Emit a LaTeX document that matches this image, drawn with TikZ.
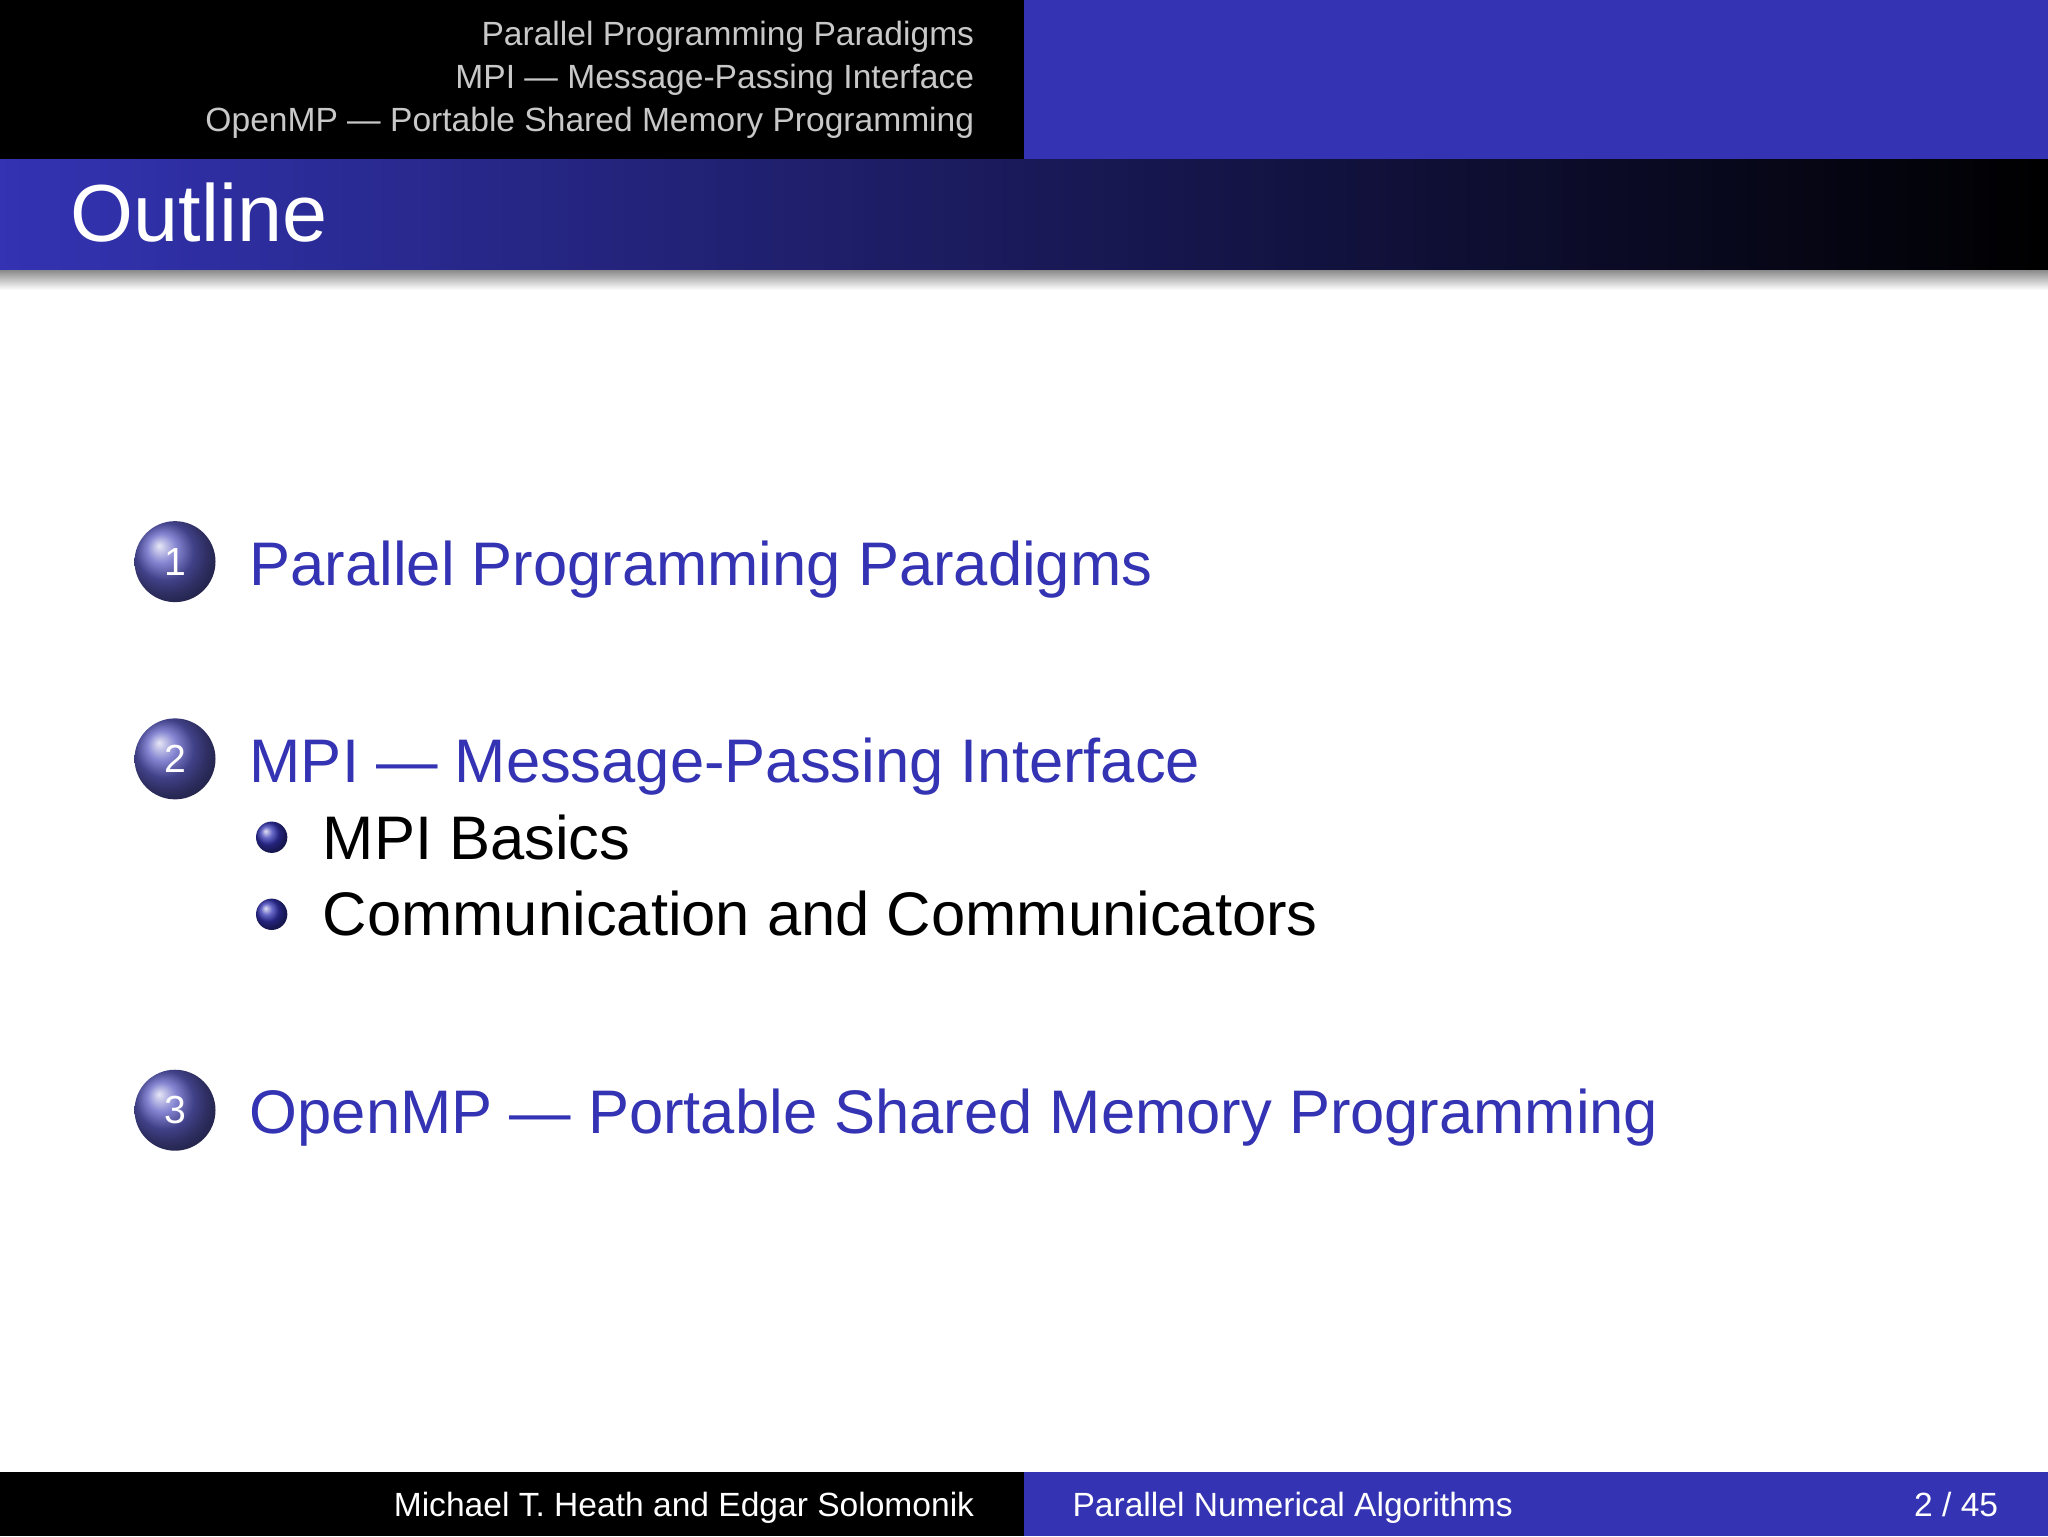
\documentclass[tikz,border=0pt]{standalone}
\usepackage{fontspec}
\setmainfont{Liberation Sans}
\definecolor{bblue}{RGB}{51,51,179}
\definecolor{hgray}{RGB}{200,200,200}
\begin{document}
\begin{tikzpicture}[x=1pt,y=-1pt,
  hdr/.style={anchor=base east,text=hgray,font=\fontsize{25.7}{30}\selectfont,inner sep=0},
  item/.style={anchor=base west,text=bblue,font=\fontsize{47.1}{55}\selectfont,inner sep=0},
  sub/.style={anchor=base west,text=black,font=\fontsize{47.1}{55}\selectfont,inner sep=0},
  foot/.style={text=white,font=\fontsize{25.7}{30}\selectfont,inner sep=0},
  num/.style={text=white,font=\fontsize{30}{34}\selectfont,inner sep=0}]
\useasboundingbox (0,0) rectangle (1568,1176);
\fill[white] (0,0) rectangle (1568,1176);
\fill[black] (0,0) rectangle (784,122);
\fill[bblue] (784,0) rectangle (1568,122);
\shade[left color=bblue,right color=black] (0,122) rectangle (1568,207);
\shade[top color=black!45,bottom color=white] (0,207) rectangle (1568,222);
\fill[black] (0,1127) rectangle (784,1176);
\fill[bblue] (784,1127) rectangle (1568,1176);
\node[hdr] (h1) at (746,35) {Parallel Programming Paradigms};
\node[hdr] (h2) at (746,68) {MPI — Message-Passing Interface};
\node[hdr] (h3) at (746,101) {OpenMP — Portable Shared Memory Programming};
\node[anchor=base west,text=white,font=\fontsize{62}{70}\selectfont,inner sep=0] (title) at (54,185) {Outline};
\shade[ball color=bblue!80] (134,430) circle (31);
\node[num] (n1) at (134,430) {1};
\shade[ball color=bblue!80] (134,581) circle (31);
\node[num] (n2) at (134,581) {2};
\shade[ball color=bblue!80] (134,850) circle (31);
\node[num] (n3) at (134,850) {3};
\node[item] (i1) at (191,448) {Parallel Programming Paradigms};
\node[item] (i2) at (191,599) {MPI — Message-Passing Interface};
\shade[ball color=bblue] (208,641) circle (12);
\node[sub] (s1) at (247,658) {MPI Basics};
\shade[ball color=bblue] (208,700) circle (12);
\node[sub] (s2) at (247,716) {Communication and Communicators};
\node[item] (i3) at (191,868) {OpenMP — Portable Shared Memory Programming};
\node[foot,anchor=base east] (f1) at (746,1161) {Michael T. Heath and Edgar Solomonik};
\node[foot,anchor=base west] (f2) at (821,1161) {Parallel Numerical Algorithms};
\node[foot,anchor=base east] (f3) at (1530,1161) {2 / 45};
\end{tikzpicture}
\end{document}
